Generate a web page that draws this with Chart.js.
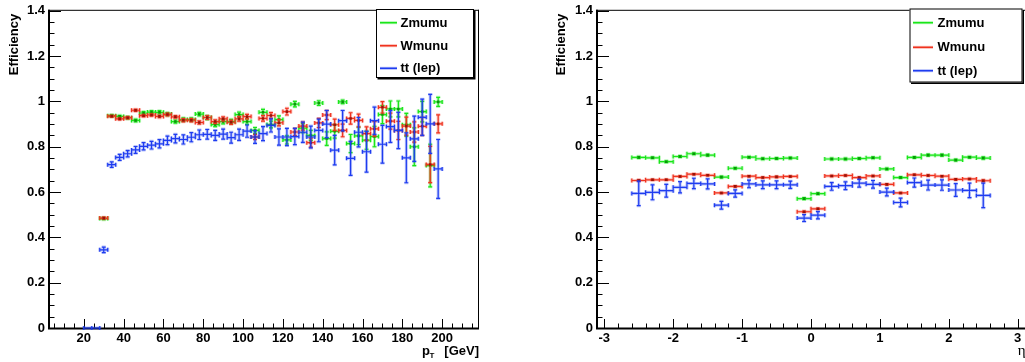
<!DOCTYPE html>
<html><head><meta charset="utf-8">
<script src="https://cdn.jsdelivr.net/npm/chart.js@4.4.1/dist/chart.umd.min.js"></script>
<style>
html,body{margin:0;padding:0;background:#fff;overflow:hidden;width:1025px;height:362px;}
#c1{position:absolute;left:0;top:0;}
#c2{position:absolute;left:512px;top:0;}
</style></head><body>
<canvas id="c1" width="512" height="362"></canvas>
<canvas id="c2" width="525" height="362"></canvas>
<script>
// ---------------- data ----------------
const seriesNames = ['Zmumu', 'Wmunu', 'tt (lep)'];

const ptBinWidth = 4;
const ptBins = [22,26,30,34,38,42,46,50,54,58,62,66,70,74,78,82,86,90,94,98,102,106,110,114,118,122,126,130,134,138,142,146,150,154,158,162,166,170,174,178,182,186,190,194,198];
const ptZmumu = [null,null,0.483,0.937,0.934,0.928,0.916,0.949,0.953,0.952,0.944,0.911,0.920,0.920,0.944,0.929,0.898,0.911,0.911,0.942,0.911,0.872,0.952,0.898,0.920,0.830,0.988,0.882,0.850,0.993,0.836,0.868,0.998,0.814,0.848,0.829,0.845,0.942,0.967,0.967,0.897,0.800,0.955,0.717,0.998];
const ptZmumuErr = [0,0,0.005,0.005,0.005,0.006,0.006,0.006,0.006,0.007,0.007,0.007,0.008,0.008,0.008,0.009,0.009,0.010,0.010,0.011,0.012,0.013,0.013,0.015,0.016,0.018,0.012,0.020,0.022,0.010,0.030,0.030,0.008,0.040,0.038,0.040,0.045,0.040,0.035,0.035,0.050,0.083,0.045,0.094,0.020];
const ptWmunu = [null,null,0.485,0.935,0.923,0.928,0.961,0.937,0.940,0.934,0.942,0.932,0.917,0.917,0.907,0.929,0.911,0.923,0.908,0.923,0.933,0.843,0.925,0.938,0.906,0.955,0.865,0.891,0.818,0.905,0.940,0.897,0.872,0.925,0.916,0.858,0.879,0.974,0.913,0.872,0.891,0.865,0.890,0.722,0.901];
const ptWmunuErr = [0,0,0.004,0.004,0.004,0.005,0.005,0.005,0.005,0.006,0.006,0.006,0.007,0.007,0.007,0.008,0.008,0.009,0.009,0.010,0.010,0.011,0.012,0.013,0.014,0.015,0.016,0.018,0.020,0.020,0.020,0.025,0.028,0.025,0.028,0.030,0.032,0.025,0.035,0.040,0.040,0.045,0.040,0.080,0.040];
const ptTtlep = [0,0,0.345,0.721,0.753,0.769,0.786,0.802,0.807,0.813,0.828,0.836,0.832,0.842,0.853,0.855,0.850,0.856,0.840,0.853,0.869,0.843,0.858,0.894,0.843,0.843,0.845,0.864,0.843,0.872,0.900,0.785,0.915,0.749,0.864,0.778,0.915,0.811,0.889,0.872,0.751,0.835,0.930,0.901,0.702];
const ptTtlepErr = [0,0,0.012,0.012,0.013,0.014,0.015,0.016,0.017,0.018,0.019,0.019,0.020,0.020,0.021,0.021,0.022,0.022,0.024,0.025,0.027,0.028,0.031,0.029,0.036,0.038,0.036,0.045,0.048,0.050,0.060,0.065,0.045,0.075,0.065,0.090,0.060,0.083,0.070,0.080,0.110,0.100,0.080,0.130,0.130];
const ptTicks = [20,40,60,80,100,120,140,160,180,200];

const etaBinWidth = 0.2;
const etaBins = [-2.5,-2.3,-2.1,-1.9,-1.7,-1.5,-1.3,-1.1,-0.9,-0.7,-0.5,-0.3,-0.1,0.1,0.3,0.5,0.7,0.9,1.1,1.3,1.5,1.7,1.9,2.1,2.3,2.5];
const etaZmumu = [0.753,0.751,0.734,0.757,0.769,0.763,0.666,0.705,0.754,0.747,0.748,0.750,0.571,0.593,0.746,0.746,0.748,0.751,0.702,0.664,0.753,0.763,0.763,0.741,0.754,0.750];
const etaZmumuErr = [0.005,0.004,0.004,0.004,0.004,0.004,0.004,0.004,0.004,0.004,0.004,0.004,0.004,0.004,0.004,0.004,0.004,0.004,0.004,0.004,0.004,0.004,0.004,0.004,0.004,0.005];
const etaWmunu = [0.651,0.654,0.654,0.669,0.679,0.674,0.596,0.625,0.670,0.664,0.667,0.669,0.513,0.526,0.671,0.673,0.664,0.671,0.634,0.596,0.676,0.673,0.670,0.656,0.658,0.650];
const etaWmunuErr = [0.004,0.003,0.003,0.003,0.003,0.003,0.003,0.003,0.003,0.003,0.003,0.003,0.003,0.003,0.003,0.003,0.003,0.003,0.003,0.003,0.003,0.003,0.003,0.003,0.003,0.004];
const etaTtlep = [0.594,0.599,0.606,0.621,0.638,0.636,0.542,0.594,0.636,0.632,0.632,0.632,0.485,0.498,0.625,0.628,0.639,0.634,0.600,0.554,0.642,0.631,0.631,0.609,0.607,0.585];
const etaTtlepErr = [0.054,0.033,0.028,0.025,0.023,0.022,0.017,0.016,0.017,0.017,0.017,0.016,0.015,0.016,0.017,0.017,0.017,0.017,0.017,0.019,0.020,0.022,0.023,0.028,0.032,0.054];
const etaTicks = [-3,-2,-1,0,1,2,3];

const effTicks = [0,0.2,0.4,0.6,0.8,1,1.2,1.4];

// ---------------- style ----------------
const FONT = '"Liberation Sans", Arial, Helvetica, sans-serif';
const LINE_COLORS = ['rgb(25,230,25)', 'rgb(240,50,30)', 'rgb(30,60,240)'];
const HALO_COLORS = ['rgba(25,230,25,0.3)', 'rgba(240,50,30,0.3)', 'rgba(30,60,240,0.3)'];
const MARK_COLORS = ['rgb(10,150,10)', 'rgb(150,20,10)', 'rgb(30,60,240)'];

function pts(xs, ys, es) {
  const out = [];
  xs.forEach((x, i) => { if (ys[i] !== null) out.push({x: x, y: ys[i], e: es[i]}); });
  return out;
}

function makeDatasets(xs, series, errs, hw) {
  return series.map((s, k) => ({
    label: seriesNames[k],
    data: pts(xs, s, errs[k]),
    halfWidth: hw,
    seriesIndex: k,
    order: 3 - k,
    pointStyle: 'rect',
    pointRadius: k === 2 ? 0 : 1.8,
    pointBackgroundColor: MARK_COLORS[k],
    pointBorderWidth: 0,
    showLine: false
  }));
}

function strokeBars(ctx, xs, ys, ds, cap) {
  ctx.beginPath();
  for (const p of ds.data) {
    const x0 = xs.getPixelForValue(p.x - ds.halfWidth), x1 = xs.getPixelForValue(p.x + ds.halfWidth);
    const xc = xs.getPixelForValue(p.x), yc = ys.getPixelForValue(p.y);
    ctx.moveTo(x0, yc); ctx.lineTo(x1, yc);
    ctx.moveTo(x0, yc - cap); ctx.lineTo(x0, yc + cap);
    ctx.moveTo(x1, yc - cap); ctx.lineTo(x1, yc + cap);
    if (p.e > 0) {
      const yl = ys.getPixelForValue(p.y - p.e), yh = ys.getPixelForValue(p.y + p.e);
      ctx.moveTo(xc, yh); ctx.lineTo(xc, yl);
      ctx.moveTo(xc - cap, yh); ctx.lineTo(xc + cap, yh);
      ctx.moveTo(xc - cap, yl); ctx.lineTo(xc + cap, yl);
    }
  }
  ctx.stroke();
}

const rootStyle = {
  id: 'rootStyle',
  beforeDatasetsDraw(chart, args, o) {
    const {ctx, chartArea: a} = chart;
    const xs = chart.scales.x, ys = chart.scales.y;
    ctx.save();
    ctx.strokeStyle = '#000';
    ctx.lineWidth = 1;
    ctx.beginPath();
    for (let k = Math.ceil(xs.min / o.xMinor - 1e-9); k * o.xMinor <= xs.max + 1e-9; k++) {
      const px = Math.round(xs.getPixelForValue(k * o.xMinor)) + 0.5;
      const len = (k % o.xRatio === 0) ? 9 : 4.5;
      ctx.moveTo(px, a.bottom); ctx.lineTo(px, a.bottom - len);
    }
    for (let k = Math.ceil(ys.min / o.yMinor - 1e-9); k * o.yMinor <= ys.max + 1e-9; k++) {
      const py = Math.round(ys.getPixelForValue(k * o.yMinor)) + 0.5;
      const len = (k % o.yRatio === 0) ? 13 : 6.5;
      ctx.moveTo(a.left, py); ctx.lineTo(a.left + len, py);
    }
    ctx.stroke();
    ctx.beginPath();
    ctx.moveTo(a.left, a.top - 0.5); ctx.lineTo(a.right + 1, a.top - 0.5);
    ctx.moveTo(a.right + 0.5, a.top - 1); ctx.lineTo(a.right + 0.5, a.bottom);
    ctx.stroke();
    ctx.lineWidth = 2;
    ctx.beginPath();
    ctx.moveTo(a.left + 1, a.top - 1); ctx.lineTo(a.left + 1, a.bottom + 1);
    ctx.moveTo(a.left, a.bottom + 0.5); ctx.lineTo(a.right + 1, a.bottom + 0.5);
    ctx.stroke();
    ctx.restore();
  },
  beforeDatasetDraw(chart, args) {
    const {ctx, chartArea: a} = chart;
    const ds = chart.data.datasets[args.index];
    const xs = chart.scales.x, ys = chart.scales.y;
    ctx.save();
    ctx.beginPath();
    ctx.rect(a.left, a.top - 2, a.right - a.left, a.bottom - a.top + 4);
    ctx.clip();
    ctx.lineCap = 'butt';
    ctx.strokeStyle = HALO_COLORS[ds.seriesIndex];
    ctx.lineWidth = 3;
    strokeBars(ctx, xs, ys, ds, 2);
    ctx.strokeStyle = LINE_COLORS[ds.seriesIndex];
    ctx.lineWidth = 1.2;
    strokeBars(ctx, xs, ys, ds, 2);
    ctx.restore();
  },
  afterDraw(chart, args, o) {
    const {ctx, chartArea: a} = chart;
    ctx.save();
    ctx.fillStyle = '#000';
    ctx.font = 'bold 13px ' + FONT;
    ctx.translate(o.yTitleX, a.top + 3);
    ctx.rotate(-Math.PI / 2);
    ctx.textAlign = 'right';
    ctx.textBaseline = 'middle';
    ctx.fillText('Efficiency', 0, 0);
    ctx.restore();
    ctx.save();
    ctx.fillStyle = '#000';
    ctx.textBaseline = 'alphabetic';
    if (o.xTitle === 'pt') {
      ctx.font = 'bold 13px ' + FONT;
      ctx.textAlign = 'right';
      ctx.fillText('[GeV]', a.right + 1, 355);
      ctx.textAlign = 'left';
      ctx.fillText('p', a.right - 56, 355);
      ctx.font = 'bold 8px ' + FONT;
      ctx.fillText('T', a.right - 48.5, 358);
    } else {
      ctx.font = '15px "Liberation Serif", "DejaVu Serif", serif';
      ctx.textAlign = 'right';
      ctx.fillText('η', a.right - 0.5, 355);
    }
    const L = o.legend;
    ctx.fillStyle = '#000';
    ctx.fillRect(L.x + 1.5, L.y + 1.5, L.w, L.h);
    ctx.fillStyle = '#fff';
    ctx.fillRect(L.x, L.y, L.w, L.h);
    ctx.strokeStyle = '#000';
    ctx.lineWidth = 1;
    ctx.strokeRect(L.x + 0.5, L.y + 0.5, L.w - 1, L.h - 1);
    ctx.font = 'bold 13px ' + FONT;
    ctx.textAlign = 'left';
    ctx.textBaseline = 'middle';
    seriesNames.forEach((name, k) => {
      const yy = L.rows[k];
      ctx.strokeStyle = HALO_COLORS[k];
      ctx.lineWidth = 3;
      ctx.beginPath(); ctx.moveTo(L.l0, yy); ctx.lineTo(L.l1, yy); ctx.stroke();
      ctx.strokeStyle = LINE_COLORS[k];
      ctx.lineWidth = 1.5;
      ctx.beginPath(); ctx.moveTo(L.l0, yy); ctx.lineTo(L.l1, yy); ctx.stroke();
      ctx.fillStyle = '#000';
      ctx.fillText(name, L.tx, yy + 0.5);
    });
    ctx.restore();
  }
};

function fmt(v) { return String(Math.round(v * 10) / 10); }

function makeChart(canvas, cfg) {
  return new Chart(canvas, {
    type: 'scatter',
    data: {datasets: cfg.datasets},
    plugins: [rootStyle],
    options: {
      responsive: false,
      devicePixelRatio: 1,
      animation: false,
      events: [],
      layout: {padding: {left: 0, top: 7, right: cfg.padRight, bottom: 0}},
      plugins: {legend: {display: false}, tooltip: {enabled: false}, rootStyle: cfg.style},
      scales: {
        x: {
          type: 'linear', min: cfg.xMin, max: cfg.xMax,
          afterBuildTicks: s => { s.ticks = cfg.xTicks.map(v => ({value: v})); },
          afterFit: s => { s.height = 34; },
          grid: {display: false, drawTicks: false},
          border: {display: false},
          ticks: {color: '#000', font: {family: FONT, weight: 'bold', size: 13}, padding: 3, maxRotation: 0, autoSkip: false, callback: v => fmt(v)}
        },
        y: {
          type: 'linear', min: 0, max: 1.4,
          afterBuildTicks: s => { s.ticks = effTicks.map(v => ({value: v})); },
          afterFit: s => { s.width = cfg.yWidth; },
          grid: {display: false, drawTicks: false},
          border: {display: false},
          ticks: {color: '#000', font: {family: FONT, weight: 'bold', size: 13}, padding: 3, autoSkip: false, callback: v => fmt(v)}
        }
      }
    }
  });
}

makeChart(document.getElementById('c1'), {
  datasets: makeDatasets(ptBins, [ptZmumu, ptWmunu, ptTtlep], [ptZmumuErr, ptWmunuErr, ptTtlepErr], ptBinWidth / 2),
  xMin: 2, xMax: 218, xTicks: ptTicks, padRight: 34, yWidth: 48,
  style: {xMinor: 5, xRatio: 4, yMinor: 0.05, yRatio: 4, yTitleX: 14, xTitle: 'pt',
    legend: {x: 376, y: 9, w: 98, h: 69, l0: 380, l1: 397, tx: 400.5, rows: [22.7, 45.7, 68.3]}}
});

makeChart(document.getElementById('c2'), {
  datasets: makeDatasets(etaBins, [etaZmumu, etaWmunu, etaTtlep], [etaZmumuErr, etaWmunuErr, etaTtlepErr], etaBinWidth / 2),
  xMin: -3.12, xMax: 3.12, xTicks: etaTicks, padRight: 11, yWidth: 84,
  style: {xMinor: 0.2, xRatio: 5, yMinor: 0.05, yRatio: 4, yTitleX: 49.5, xTitle: 'eta',
    legend: {x: 397.5, y: 8.5, w: 113, h: 74, l0: 401, l1: 421, tx: 425.5, rows: [22.7, 47.3, 70.7]}}
});
</script></body></html>
